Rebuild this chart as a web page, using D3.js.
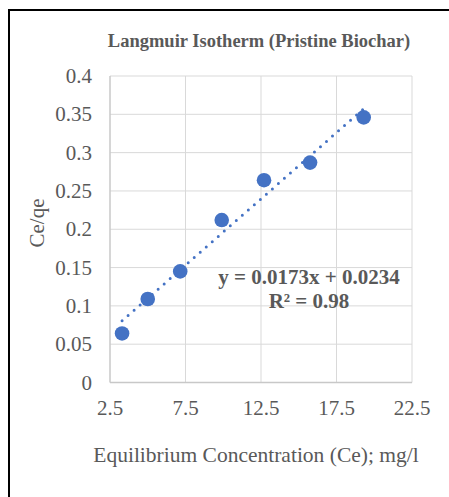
<!DOCTYPE html>
<html>
<head>
<meta charset="utf-8">
<script src="https://cdn.jsdelivr.net/npm/d3@7"></script>
<style>
  body { margin: 0; background: #fff; }
  text { font-family: "Liberation Serif", "Times New Roman", serif; fill: #595959; }
</style>
</head>
<body>
<script>
// Ce (mg/l) vs Ce/qe
var ce = [3.3, 5.0, 7.15, 9.9, 12.7, 15.75, 19.3];
var ceqe = [0.064, 0.109, 0.145, 0.212, 0.264, 0.287, 0.346];
var xTicks = [2.5, 7.5, 12.5, 17.5, 22.5];
var yTicks = [0, 0.05, 0.1, 0.15, 0.2, 0.25, 0.3, 0.35, 0.4];
var slope = 0.0173, intercept = 0.0234;

var svg = d3.select('body').append('svg')
    .attr('width', 449)
    .attr('height', 497);

// chart border (cropped at the right / bottom)
svg.append('path')
  .attr('d', 'M9,497 V10 H449')
  .style('fill', 'none')
  .style('stroke', '#000')
  .style('stroke-width', 2);

var x = d3.scaleLinear().domain([2.5, 22.5]).range([110, 412]);
var y = d3.scaleLinear().domain([0, 0.4]).range([382.5, 76]);

// gridlines
svg.append('g').selectAll('line.h')
  .data(yTicks.slice(1))
  .enter().append('line')
    .attr('x1', x(2.5)).attr('x2', x(22.5))
    .attr('y1', d => y(d)).attr('y2', d => y(d))
    .style('stroke', '#d9d9d9').style('stroke-width', 1);

svg.append('g').selectAll('line.v')
  .data(xTicks.slice(1))
  .enter().append('line')
    .attr('x1', d => x(d)).attr('x2', d => x(d))
    .attr('y1', y(0)).attr('y2', y(0.4))
    .style('stroke', '#d9d9d9').style('stroke-width', 1);

// axis lines
svg.append('line')
  .attr('x1', x(2.5)).attr('x2', x(2.5)).attr('y1', y(0)).attr('y2', y(0.4))
  .style('stroke', '#c8c8c8').style('stroke-width', 1.5);
svg.append('line')
  .attr('x1', x(2.5)).attr('x2', x(22.5)).attr('y1', y(0)).attr('y2', y(0))
  .style('stroke', '#c8c8c8').style('stroke-width', 1.5);

// tick labels
svg.append('g').selectAll('text')
  .data(yTicks)
  .enter().append('text')
    .attr('x', 92)
    .attr('y', d => y(d) + 7)
    .attr('text-anchor', 'end')
    .style('font-size', '21px')
    .text(d => +d.toFixed(2));

svg.append('g').selectAll('text')
  .data(xTicks)
  .enter().append('text')
    .attr('x', d => x(d))
    .attr('y', 415)
    .attr('text-anchor', 'middle')
    .style('font-size', '21px')
    .text(d => d);

// trendline
var xs = d3.extent(ce);
svg.append('line')
  .attr('x1', x(xs[0])).attr('y1', y(slope * xs[0] + intercept))
  .attr('x2', x(xs[1])).attr('y2', y(slope * xs[1] + intercept))
  .style('stroke', '#4472c4')
  .style('stroke-width', 3)
  .style('stroke-linecap', 'round')
  .style('stroke-dasharray', '0,8');

// points
svg.append('g').selectAll('circle')
  .data(ce)
  .enter().append('circle')
    .attr('cx', d => x(d))
    .attr('cy', (d, i) => y(ceqe[i]))
    .attr('r', 7.3)
    .style('fill', '#4472c4');

// equation
svg.append('text')
  .attr('x', 309).attr('y', 284)
  .attr('text-anchor', 'middle')
  .style('font-size', '21px').style('font-weight', 'bold')
  .text('y = 0.0173x + 0.0234');
svg.append('text')
  .attr('x', 309).attr('y', 308)
  .attr('text-anchor', 'middle')
  .style('font-size', '21px').style('font-weight', 'bold')
  .text('R² = 0.98');

// titles
svg.append('text')
  .attr('x', 259).attr('y', 47)
  .attr('text-anchor', 'middle')
  .style('font-size', '18.5px').style('font-weight', 'bold')
  .text('Langmuir Isotherm (Pristine Biochar)');

svg.append('text')
  .attr('x', 256).attr('y', 462)
  .attr('text-anchor', 'middle')
  .style('font-size', '21.5px')
  .text('Equilibrium Concentration (Ce); mg/l');

svg.append('text')
  .attr('transform', 'translate(44,223) rotate(-90)')
  .attr('text-anchor', 'middle')
  .style('font-size', '21px')
  .text('Ce/qe');
</script>
</body>
</html>
